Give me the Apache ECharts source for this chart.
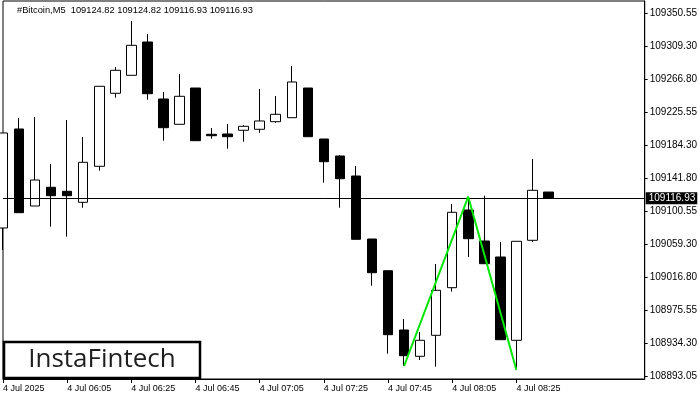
<!DOCTYPE html>
<html>
<head>
<meta charset="utf-8">
<script src="https://cdn.jsdelivr.net/npm/echarts@6/dist/echarts.min.js"></script>
<style>html,body{margin:0;padding:0;background:#fff}#c{width:700px;height:400px}</style>
</head>
<body>
<div id="c"></div>
<script>
// 5-minute slots, 4 Jul 2025 (index 0 = 05:45)
const times = ['05:45','05:50','05:55','06:00','06:05','06:10','06:15','06:20','06:25','06:30','06:35','06:40','06:45','06:50','06:55','07:00','07:05','07:10','07:15','07:20','07:25','07:30','07:35','07:40','07:45','07:50','07:55','08:00','08:05','08:10','08:15','08:20','08:25','08:30','08:35','08:40','08:45','08:50','08:55','09:00','09:05'];
const xTickLabels = ['4 Jul 2025','4 Jul 06:05','4 Jul 06:25','4 Jul 06:45','4 Jul 07:05','4 Jul 07:25','4 Jul 07:45','4 Jul 08:05','4 Jul 08:25'];
const yTickLabels = [109350.55,109309.30,109266.80,109225.55,109184.30,109141.80,109100.55,109059.30,109016.80,108975.55,108934.30,108893.05];

const opens  = [109079.47,109204.35,109107.22,109130.81,109125.76,109111.88,109157.29,109249.38,109272.08,109314.09,109242.19,109210.27,109256.06,109197.66,109198.04,109202.71,109203.97,109213.55,109218.60,109256.06,109191.73,109170.29,109145.06,109065.59,109025.60,108950.80,108917.63,108944.12,109004.16,109102.17,109063.07,109042.89,108937.81,109063.95,109124.82];
const closes = [109199.30,109098.77,109140.01,109120.21,109120.21,109162.34,109258.21,109278.39,109309.92,109248.87,109205.98,109245.59,109189.59,109195.89,109194.63,109207.75,109214.44,109222.89,109263.63,109194.63,109163.10,109141.65,109065.21,109023.08,108944.88,108918.39,108937.81,109000.88,109099.27,109065.97,109034.43,108938.57,109062.69,109127.02,109116.93];
const lows   = [109051.72,109098.77,109107.22,109081.11,109068.49,109105.07,109151.74,109243.83,109272.08,109241.30,109189.59,109210.27,109189.59,109192.11,109179.50,109188.33,109199.68,109212.29,109218.60,109194.63,109136.61,109105.07,109065.21,109006.68,108920.91,108905.39,108912.96,108904.51,108999.12,109042.89,109034.43,108938.57,108901.00,109061.81,109116.93];
const highs  = [109199.30,109218.22,109219.48,109160.20,109215.70,109194.25,109258.21,109282.55,109340.58,109324.18,109251.02,109273.72,109256.06,109205.61,109210.65,109209.01,109254.80,109245.97,109283.81,109256.06,109191.73,109171.55,109157.67,109065.59,109025.60,108964.68,108948.28,109034.06,109109.74,109118.95,109120.21,109061.81,109062.69,109166.50,109124.82];

const currentPrice = 109116.93;
const titleText = '#Bitcoin,M5  109124.82 109124.82 109116.93 109116.93';
const patternIdx = [25, 29, 32];
const patternVal = [108905.39, 109118.95, 108900.35];

const candleData = opens.map((o, i) => [o, closes[i], lows[i], highs[i]]);
const patternData = times.map(() => null);
patternIdx.forEach((ix, k) => { patternData[ix] = patternVal[k]; });
const lastLabelIdx = (xTickLabels.length - 1) * 4;

const chart = echarts.init(document.getElementById('c'), null, {renderer: 'canvas'});
chart.setOption({
  animation: false,
  backgroundColor: '#fff',
  textStyle: {fontFamily: 'Liberation Sans'},
  grid: {left: 3, right: 55, top: 1, bottom: 21, show: true, borderColor: '#000', borderWidth: 1, backgroundColor: 'transparent'},
  xAxis: {
    type: 'category', data: times, boundaryGap: false,
    axisLine: {lineStyle: {color: '#000', width: 1}},
    axisTick: {interval: (i) => i % 4 === 0 && i <= lastLabelIdx, length: 4, lineStyle: {color: '#000'}},
    axisLabel: {
      interval: (i) => i % 4 === 0 && i <= lastLabelIdx,
      align: 'left', margin: 5, fontSize: 9, color: '#000', fontFamily: 'Liberation Sans',
      formatter: (v, i) => xTickLabels[i / 4] || ''
    },
    splitLine: {show: false}
  },
  yAxis: {
    type: 'value', position: 'right', min: 108889.0, max: 109365.8, scale: true,
    axisLine: {show: true, lineStyle: {color: '#000', width: 1}},
    axisTick: {show: true, length: 3, customValues: yTickLabels, lineStyle: {color: '#000'}},
    axisLabel: {customValues: yTickLabels, margin: 5, fontSize: 10, color: '#000', fontFamily: 'Liberation Sans', formatter: (v) => v.toFixed(2)},
    splitLine: {show: false}
  },
  series: [
    {
      type: 'candlestick', data: candleData, barWidth: 10, clip: true,
      itemStyle: {color: '#fff', color0: '#000', borderColor: '#000', borderColor0: '#000', borderWidth: 1},
      markLine: {
        silent: true, symbol: 'none', animation: false,
        lineStyle: {color: '#000', width: 1, type: 'solid'},
        label: {position: 'end', distance: 1, formatter: currentPrice.toFixed(2), color: '#fff', backgroundColor: '#000', padding: [1, 2, 1, 3], fontSize: 10, fontFamily: 'Liberation Sans'},
        data: [{yAxis: currentPrice}]
      },
      z: 2
    },
    {
      type: 'line', data: patternData, connectNulls: true, symbol: 'none',
      lineStyle: {color: '#00e600', width: 2}, z: 5
    }
  ],
  graphic: [
    {type: 'text', left: 17, top: 6, style: {text: titleText, font: '9.3px "Liberation Sans"', fill: '#000'}},
    {type: 'rect', shape: {x: 4, y: 342, width: 196, height: 36}, style: {fill: '#fff', stroke: '#000', lineWidth: 2.5}, z: 10},
    {type: 'text', x: 102, y: 360, style: {text: 'InstaFintech', font: '500 26px "Open Sans"', fill: '#1e1e1e', align: 'center', verticalAlign: 'middle'}, z: 11}
  ]
});
</script>
</body>
</html>
